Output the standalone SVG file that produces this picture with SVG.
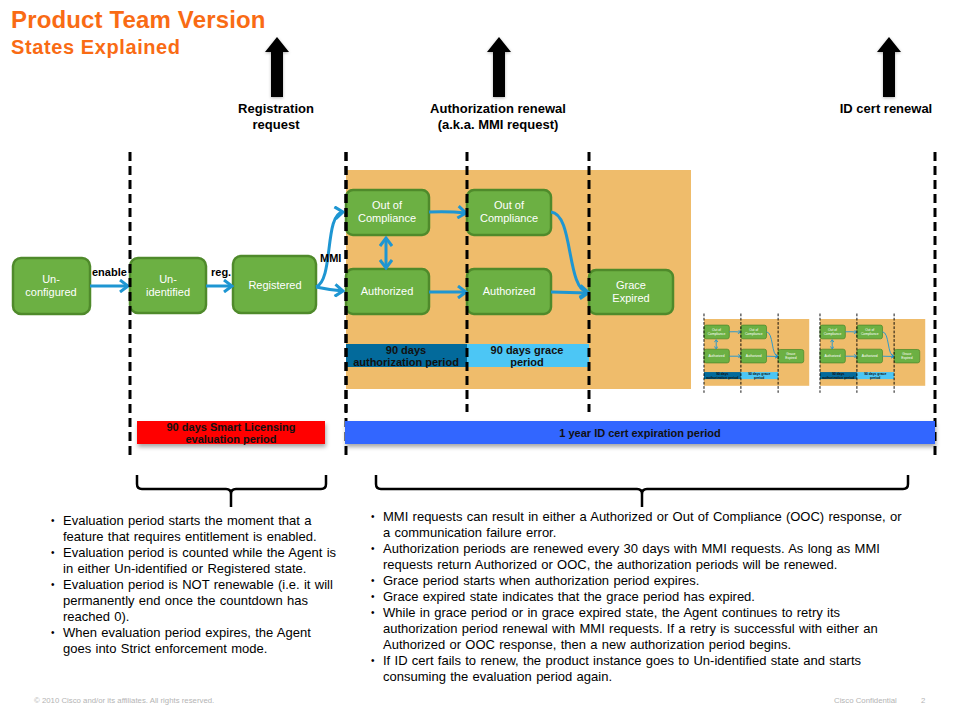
<svg xmlns="http://www.w3.org/2000/svg" xmlns:xlink="http://www.w3.org/1999/xlink" width="960" height="720" viewBox="0 0 960 720">
  <defs>
    <style>
      text { font-family: "Liberation Sans", Arial, sans-serif; }
      .title { fill: #f96b14; font-weight: bold; }
      .hdr { font-size: 13px; font-weight: bold; fill: #000; text-anchor: middle; }
      .node rect { fill: #6cb043; stroke: #4f8a2b; stroke-width: 2.5; }
      .node text { fill: #fff; font-size: 11px; text-anchor: middle; }
      .conn { fill: none; stroke: #1e96d2; stroke-width: 3; }
      .lbl { font-size: 11px; font-weight: bold; fill: #000; }
      .dash { stroke: #000; stroke-width: 3; stroke-dasharray: 9 5; fill: none; }
      .bartxt { font-size: 11px; font-weight: bold; fill: #111; text-anchor: middle; }
      .body { font-size: 13px; fill: #000; word-spacing: 0.7px; }
      .bul { font-size: 10px; fill: #000; }
      .brace { fill: none; stroke: #000; stroke-width: 2.5; stroke-linejoin: round; }
      .foot { font-size: 7.8px; fill: #b4b4b4; }
    </style>
    <marker id="ah" viewBox="-10 -7 12 14" markerWidth="12" markerHeight="14" refX="0" refY="0" orient="auto" markerUnits="userSpaceOnUse">
      <path d="M-8,-6 L0,0 L-8,6" fill="none" stroke="#1e96d2" stroke-width="3" stroke-linejoin="miter"/>
    </marker>
    <marker id="ahs" viewBox="-10 -7 12 14" markerWidth="12" markerHeight="14" refX="0" refY="0" orient="auto-start-reverse" markerUnits="userSpaceOnUse">
      <path d="M-8,-6 L0,0 L-8,6" fill="none" stroke="#1e96d2" stroke-width="3"/>
    </marker>
    <filter id="sh" x="-10%" y="-30%" width="120%" height="180%">
      <feDropShadow dx="1" dy="3" stdDeviation="2" flood-color="#000" flood-opacity="0.35"/>
    </filter>
    <filter id="ash" x="-50%" y="-20%" width="200%" height="140%">
      <feDropShadow dx="0" dy="1" stdDeviation="1.5" flood-color="#000" flood-opacity="0.3"/>
    </filter>
  </defs>

  <rect x="0" y="0" width="960" height="720" fill="#fff"/>

  <!-- Title -->
  <g id="title">
    <text class="title" x="11" y="28" font-size="24" letter-spacing="0.15">Product Team Version</text>
    <text class="title" x="11" y="54" font-size="20" letter-spacing="0.6">States Explained</text>
  </g>

  <!-- Top event arrows -->
  <g id="events">
    <polygon filter="url(#ash)" fill="#000" points="277,37 289,52 283,52 283,97 271,97 271,52 265,52"/>
    <polygon filter="url(#ash)" fill="#000" points="499,37 511,52 505,52 505,97 493,97 493,52 487,52"/>
    <polygon filter="url(#ash)" fill="#000" points="889,37 901,52 895,52 895,97 883,97 883,52 877,52"/>
    <text class="hdr" x="276" y="113">Registration</text>
    <text class="hdr" x="276" y="129">request</text>
    <text class="hdr" x="498" y="113">Authorization renewal</text>
    <text class="hdr" x="498" y="129">(a.k.a. MMI request)</text>
    <text class="hdr" x="886" y="113">ID cert renewal</text>
  </g>

  <!-- Authorization block (reused as thumbnails) -->
  <g id="authBlock">
    <rect x="346" y="170" width="345" height="219" fill="#efbc6b"/>
    <g id="period-auth">
      <rect x="346" y="344" width="121" height="23" fill="#036a9b"/>
      <text class="bartxt" x="406" y="354">90 days</text>
      <text class="bartxt" x="406" y="366">authorization period</text>
    </g>
    <g id="period-grace">
      <rect x="467" y="344" width="122" height="23" fill="#4cc6f5"/>
      <text class="bartxt" x="527" y="354">90 days grace</text>
      <text class="bartxt" x="527" y="366">period</text>
    </g>
    <g id="n-ooc1" class="node">
      <rect x="346" y="190" width="83" height="45" rx="7"/>
      <text x="387" y="209">Out of</text>
      <text x="387" y="222">Compliance</text>
    </g>
    <g id="n-auth1" class="node">
      <rect x="346" y="269" width="83" height="45" rx="7"/>
      <text x="387" y="295">Authorized</text>
    </g>
    <g id="n-ooc2" class="node">
      <rect x="467" y="190" width="84" height="45" rx="7"/>
      <text x="509" y="209">Out of</text>
      <text x="509" y="222">Compliance</text>
    </g>
    <g id="n-auth2" class="node">
      <rect x="467" y="269" width="84" height="45" rx="7"/>
      <text x="509" y="295">Authorized</text>
    </g>
    <g id="n-grace" class="node">
      <rect x="589" y="270" width="84" height="44" rx="7"/>
      <text x="631" y="289">Grace</text>
      <text x="631" y="302">Expired</text>
    </g>
    <g id="block-connectors">
      <path class="conn" marker-start="url(#ahs)" marker-end="url(#ah)" d="M386,238 L386,268"/>
      <path class="conn" marker-end="url(#ah)" d="M429,212 Q448,211 466,213"/>
      <path class="conn" marker-end="url(#ah)" d="M429,292 L466,292"/>
      <path class="conn" marker-end="url(#ah)" d="M551,212 C574,214 566,290 588,292"/>
      <path class="conn" marker-end="url(#ah)" d="M551,292 L588,293"/>
    </g>
    <g id="block-dashes">
      <line class="dash" x1="346" y1="152" x2="346" y2="412"/>
      <line class="dash" x1="467" y1="152" x2="467" y2="412"/>
      <line class="dash" x1="589" y1="152" x2="589" y2="412"/>
    </g>
  </g>

  <!-- Thumbnails of repeated authorization cycles -->
  <use id="thumb1" xlink:href="#authBlock" transform="translate(598.47,267.15) scale(0.305)"/>
  <use id="thumb2" xlink:href="#authBlock" transform="translate(714.47,267.15) scale(0.305)"/>

  <!-- Left nodes -->
  <g id="n-unconfigured" class="node">
    <rect x="13" y="258" width="77" height="56" rx="8"/>
    <text x="51" y="283">Un-</text>
    <text x="51" y="296">configured</text>
  </g>
  <g id="n-unidentified" class="node">
    <rect x="130" y="258" width="76" height="55" rx="8"/>
    <text x="168" y="283">Un-</text>
    <text x="168" y="296">identified</text>
  </g>
  <g id="n-registered" class="node">
    <rect x="233" y="256" width="83" height="57" rx="8"/>
    <text x="275" y="289">Registered</text>
  </g>

  <!-- Connectors -->
  <g id="connectors">
    <path class="conn" marker-end="url(#ah)" d="M90,286 L128,286"/>
    <path class="conn" marker-end="url(#ah)" d="M206,286 L232,286"/>
    <path class="conn" marker-end="url(#ah)" d="M316,287 C334,280 324,214 343,212"/>
    <path class="conn" marker-end="url(#ah)" d="M316,287 Q330,290 343,291"/>
    <text class="lbl" x="92" y="276">enable</text>
    <text class="lbl" x="211" y="276">reg.</text>
    <text class="lbl" x="320" y="262">MMI</text>
  </g>

  <!-- Timeline dashed lines -->
  <g id="timeline">
    <line class="dash" x1="130" y1="152" x2="130" y2="458"/>
    <line class="dash" x1="346" y1="152" x2="346" y2="458"/>
    <line class="dash" x1="935" y1="152" x2="935" y2="458"/>
  </g>

  <!-- Period bars -->
  <g id="bar-eval">
    <rect x="137" y="421" width="188" height="23" fill="#ff0000" filter="url(#sh)"/>
    <text class="bartxt" x="231" y="431">90 days Smart Licensing</text>
    <text class="bartxt" x="231" y="443">evaluation period</text>
  </g>
  <g id="bar-cert">
    <rect x="345" y="421" width="590" height="23" fill="#3366ff" filter="url(#sh)"/>
    <text class="bartxt" x="640" y="437">1 year ID cert expiration period</text>
  </g>

  <!-- Braces -->
  <g id="braces">
    <path class="brace" d="M137,475 L137,484 Q137,489 142,489 L226,489 Q231,489 231,494 L231,507 M231,494 Q231,489 236,489 L321,489 Q326,489 326,484 L326,475"/>
    <path class="brace" d="M376,475 L376,484 Q376,489 381,489 L637,489 Q642,489 642,494 L642,507 M642,494 Q642,489 647,489 L903,489 Q908,489 908,484 L908,475"/>
  </g>

  <!-- Notes left -->
  <g id="notes-left">
    <text class="bul" x="51" y="524">•</text>
    <text class="body" x="63" y="525">Evaluation period starts the moment that a</text>
    <text class="body" x="63" y="541">feature that requires entitlement is enabled.</text>
    <text class="bul" x="51" y="556">•</text>
    <text class="body" x="63" y="557">Evaluation period is counted while the Agent is</text>
    <text class="body" x="63" y="573">in either Un-identified or Registered state.</text>
    <text class="bul" x="51" y="588">•</text>
    <text class="body" x="63" y="589">Evaluation period is NOT renewable (i.e. it will</text>
    <text class="body" x="63" y="605">permanently end once the countdown has</text>
    <text class="body" x="63" y="621">reached 0).</text>
    <text class="bul" x="51" y="636">•</text>
    <text class="body" x="63" y="637">When evaluation period expires, the Agent</text>
    <text class="body" x="63" y="653">goes into Strict enforcement mode.</text>
  </g>

  <!-- Notes right -->
  <g id="notes-right">
    <text class="bul" x="371" y="520">•</text>
    <text class="body" x="383" y="521">MMI requests can result in either a Authorized or Out of Compliance (OOC) response, or</text>
    <text class="body" x="383" y="537">a communication failure error.</text>
    <text class="bul" x="371" y="552">•</text>
    <text class="body" x="383" y="553">Authorization periods are renewed every 30 days with MMI requests. As long as MMI</text>
    <text class="body" x="383" y="569">requests return Authorized or OOC, the authorization periods will be renewed.</text>
    <text class="bul" x="371" y="584">•</text>
    <text class="body" x="383" y="585">Grace period starts when authorization period expires.</text>
    <text class="bul" x="371" y="600">•</text>
    <text class="body" x="383" y="601">Grace expired state indicates that the grace period has expired.</text>
    <text class="bul" x="371" y="616">•</text>
    <text class="body" x="383" y="617">While in grace period or in grace expired state, the Agent continues to retry its</text>
    <text class="body" x="383" y="633">authorization period renewal with MMI requests. If a retry is successful with either an</text>
    <text class="body" x="383" y="649">Authorized or OOC response, then a new authorization period begins.</text>
    <text class="bul" x="371" y="664">•</text>
    <text class="body" x="383" y="665">If ID cert fails to renew, the product instance goes to Un-identified state and starts</text>
    <text class="body" x="383" y="681">consuming the evaluation period again.</text>
  </g>

  <!-- Footer -->
  <g id="footer">
    <text class="foot" x="34" y="703">© 2010 Cisco and/or its affiliates. All rights reserved.</text>
    <text class="foot" x="834" y="703">Cisco Confidential</text>
    <text class="foot" x="921" y="703">2</text>
  </g>
</svg>
